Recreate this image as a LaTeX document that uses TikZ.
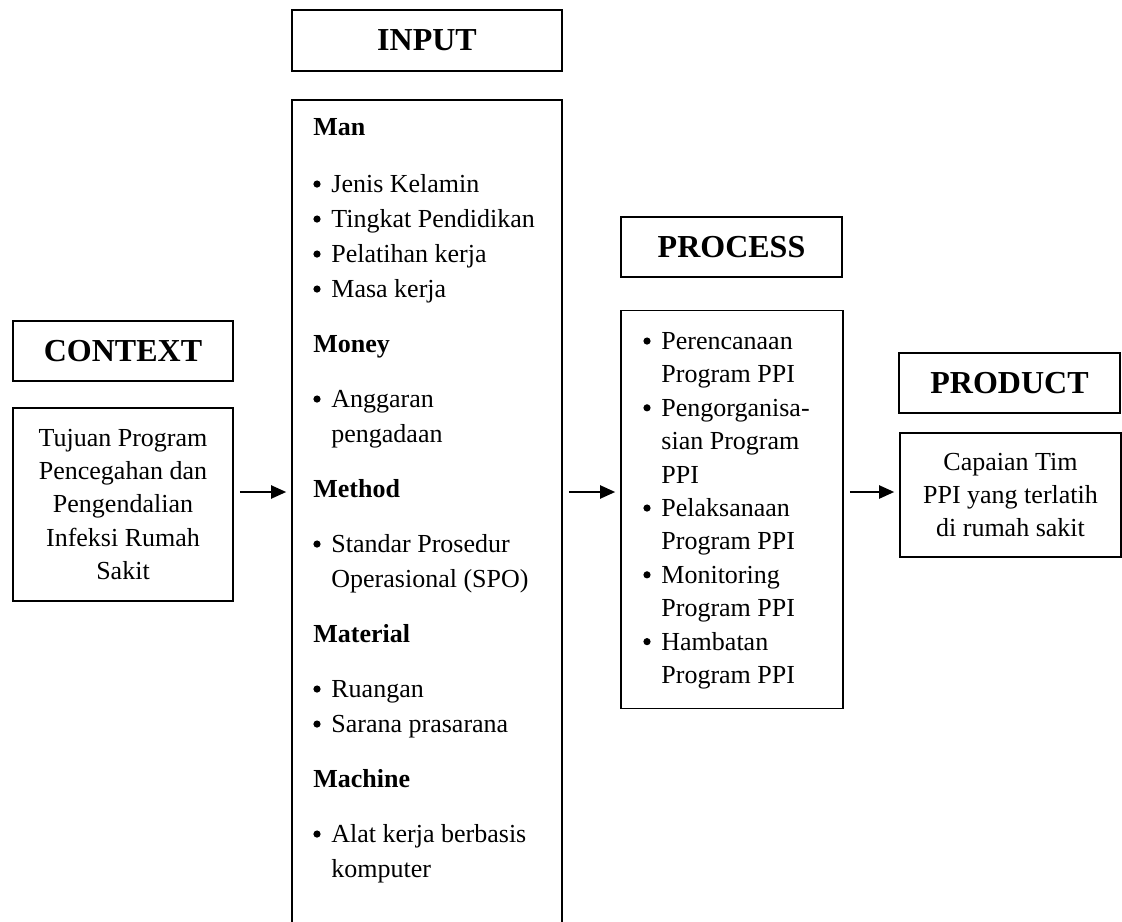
\documentclass[tikz,border=0pt]{standalone}
\usepackage{fontspec}
\setmainfont{Liberation Serif}
\usetikzlibrary{arrows.meta,positioning}

\newcommand{\itm}{\makebox[9pt][l]{\raisebox{2.4pt}{\tikz\fill (0,0) circle (1.8pt);}}}
\newcommand{\itmx}{\hspace*{9pt}}

\begin{document}
\begin{tikzpicture}[x=0.5pt,y=-0.5pt]
	\tikzstyle{heading}=[draw,line width=0.8pt,inner sep=0pt,font=\fontsize{16}{19}\selectfont\bfseries]
	\tikzstyle{box}=[draw,line width=0.8pt,inner sep=0pt]
	\tikzstyle{txt}=[inner sep=0pt,font=\fontsize{13}{16.7}\selectfont]
	\tikzstyle{flow}=[line width=1pt,-{Triangle[length=7.5pt,width=6.5pt]},shorten <=3pt,shorten >=2.5pt]

	\clip (0,0) rectangle (1122,921);

	\node[heading,minimum width=110pt,minimum height=30pt] (ctxhead) at (123,351) {CONTEXT};
	\node[box,txt,align=center,minimum width=110pt,minimum height=96.5pt] (ctxbox) at (123,504.5)
		{Tujuan Program\\Pencegahan dan\\Pengendalian\\Infeksi Rumah\\Sakit};

	\node[heading,minimum width=135pt,minimum height=30.5pt] (inhead) at (427,40.5) {INPUT};
	\node[box,anchor=north,minimum width=135pt,minimum height=460pt] (inbox) at (427,99) {};
	\node[txt,font=\fontsize{13}{17.5}\selectfont,align=left,anchor=north west] (inlist) at (313,118)
		{\textbf{Man}\\[11pt]
		\itm Jenis Kelamin\\
		\itm Tingkat Pendidikan\\
		\itm Pelatihan kerja\\
		\itm Masa kerja\\[10pt]
		\textbf{Money}\\[10pt]
		\itm Anggaran\\
		\itmx pengadaan\\[10pt]
		\textbf{Method}\\[10pt]
		\itm Standar Prosedur\\
		\itmx Operasional (SPO)\\[10pt]
		\textbf{Material}\\[10pt]
		\itm Ruangan\\
		\itm Sarana prasarana\\[10pt]
		\textbf{Machine}\\[10pt]
		\itm Alat kerja berbasis\\
		\itmx komputer};

	\node[heading,minimum width=110.5pt,minimum height=30pt] (prochead) at (731.5,247) {PROCESS};
	\node[box,minimum width=111pt,minimum height=199pt] (procbox) at (732,509.5) {};
	\node[txt,align=left,anchor=north west] (proclist) at (643,332)
		{\itm Perencanaan\\
		\itmx Program PPI\\
		\itm Pengorganisa-\\
		\itmx sian Program\\
		\itmx PPI\\
		\itm Pelaksanaan\\
		\itmx Program PPI\\
		\itm Monitoring\\
		\itmx Program PPI\\
		\itm Hambatan\\
		\itmx Program PPI};

	\node[heading,minimum width=110.5pt,minimum height=30pt] (prodhead) at (1009.5,383) {PRODUCT};
	\node[box,txt,align=center,minimum width=110.5pt,minimum height=62pt] (prodbox) at (1010.5,495)
		{Capaian Tim\\PPI yang terlatih\\di rumah sakit};

	\coordinate (mid) at (0,492);
	\draw[flow] (ctxbox.east |- mid) -- (inbox.west |- mid);
	\draw[flow] (inbox.east |- mid) -- (procbox.west |- mid);
	\draw[flow] (procbox.east |- mid) -- (prodbox.west |- mid);

\end{tikzpicture}
\end{document}
